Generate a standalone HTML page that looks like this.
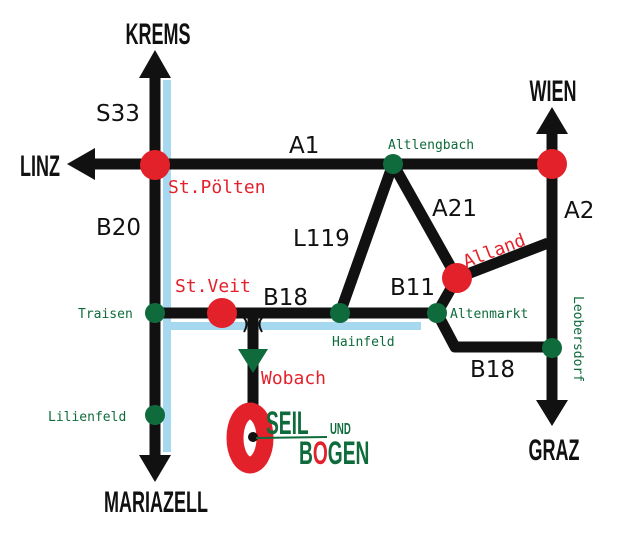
<!DOCTYPE html>
<html><head><style>html,body{margin:0;padding:0;background:#fff}svg{display:block}</style></head><body>
<svg width="620" height="535" viewBox="0 0 620 535" xmlns="http://www.w3.org/2000/svg">
<rect width="620" height="535" fill="#fff"/>
<rect x="163" y="80" width="8" height="372" fill="#a6d8f0"/>
<rect x="163" y="322" width="258" height="8" fill="#a6d8f0"/>
<g stroke="#111" stroke-width="11" fill="none" stroke-linejoin="round">
<line x1="155" y1="72" x2="155" y2="458"/>
<line x1="88" y1="164" x2="552" y2="164"/>
<line x1="552" y1="130" x2="552" y2="402"/>
<line x1="155" y1="313" x2="437" y2="313"/>
<polyline points="340,313 393,164 457,278 437,313 455,347 552,347"/>
<line x1="457" y1="278" x2="548" y2="243"/>
<line x1="253" y1="313" x2="253" y2="410"/>
</g>
<g fill="#111">
<polygon points="155,50 139,78 171,78"/>
<polygon points="155,482 139,455 171,455"/>
<polygon points="67,164 95,148 95,180"/>
<polygon points="552,107 536,134 568,134"/>
<polygon points="552,426 536,400 568,400"/>
</g>
<g stroke="#111" stroke-width="2" fill="none">
<path d="M244,318 q5,5 0,14"/><path d="M262,318 q-5,5 0,14"/>
</g>
<polygon points="238,349 268,349 253,373" fill="#0f6b3b"/>
<g fill="#e3212b">
<circle cx="155" cy="165" r="15"/><circle cx="552" cy="164" r="15"/>
<circle cx="457" cy="278" r="15"/><circle cx="222" cy="313" r="15"/>
</g>
<g fill="#0f6b3b">
<circle cx="393" cy="164" r="10"/><circle cx="155" cy="313" r="10"/><circle cx="155" cy="415" r="10"/>
<circle cx="340" cy="313" r="10"/><circle cx="437" cy="313" r="10"/><circle cx="552" cy="348" r="10"/>
</g>
<g font-family="Liberation Sans, sans-serif" font-weight="bold" font-size="30" fill="#111">
<text x="158" y="44" text-anchor="middle" transform="translate(158,0) scale(0.6,1) translate(-158,0)">KREMS</text>
<text x="40" y="176" text-anchor="middle" transform="translate(40,0) scale(0.6,1) translate(-40,0)">LINZ</text>
<text x="553" y="101" text-anchor="middle" transform="translate(553,0) scale(0.6,1) translate(-553,0)">WIEN</text>
<text x="554" y="460" text-anchor="middle" transform="translate(554,0) scale(0.6,1) translate(-554,0)">GRAZ</text>
<text x="156" y="512" text-anchor="middle" transform="translate(156,0) scale(0.6,1) translate(-156,0)">MARIAZELL</text>
</g>
<g font-family="DejaVu Sans, sans-serif" font-size="23" fill="#111">
<text x="96" y="121">S33</text><text x="96" y="235">B20</text>
<text x="289" y="153">A1</text><text x="432" y="216">A21</text>
<text x="564" y="218">A2</text><text x="293" y="246">L119</text>
<text x="263" y="305">B18</text><text x="390" y="295">B11</text>
<text x="470" y="377">B18</text>
</g>
<g font-family="DejaVu Sans Mono, monospace" font-size="18" fill="#e3212b">
<text x="168" y="193">St.Pölten</text>
<text x="175" y="292">St.Veit</text>
<text x="261" y="384">Wobach</text>
<text x="466" y="268" transform="rotate(-21 466 268)">Alland</text>
</g>
<g font-family="DejaVu Sans Mono, monospace" font-size="13" fill="#0f6b3b">
<text x="388" y="149">Altlengbach</text>
<text x="78" y="318">Traisen</text>
<text x="48" y="421">Lilienfeld</text>
<text x="450" y="318">Altenmarkt</text>
<text x="332" y="346">Hainfeld</text>
<text x="574" y="296" transform="rotate(90 574 296)">Leobersdorf</text>
</g>
<ellipse cx="250" cy="438" rx="15" ry="27" fill="none" stroke="#e3212b" stroke-width="17"/>
<circle cx="253" cy="437" r="5" fill="#111"/>
<line x1="256" y1="438" x2="327" y2="437" stroke="#0f6b3b" stroke-width="2"/>
<g font-family="Liberation Sans, sans-serif" font-weight="bold" fill="#0f6b3b">
<text x="266" y="434" font-size="32" transform="translate(266,0) scale(0.6,1) translate(-266,0)">SEIL</text>
<text x="330" y="434" font-size="16" transform="translate(330,0) scale(0.6,1) translate(-330,0)">UND</text>
<text x="299" y="464" font-size="32" transform="translate(299,0) scale(0.6,1) translate(-299,0)">B<tspan fill="#e3212b">O</tspan>GEN</text>
</g>
</svg>
</body></html>
